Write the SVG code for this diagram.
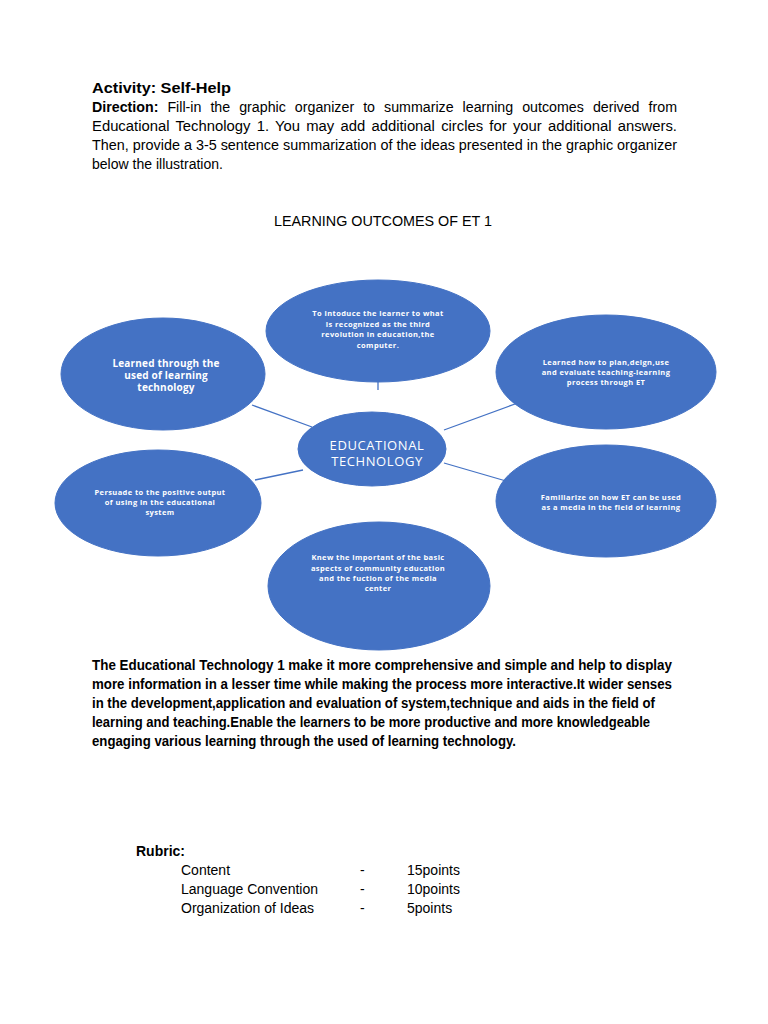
<svg xmlns="http://www.w3.org/2000/svg" width="768" height="1024" viewBox="0 0 768 1024">
<style>
.t{font-family:"Liberation Sans",Arial,sans-serif;font-size:14px;fill:#000}
.b{font-weight:bold}
.n{fill:#4472C4;stroke:#4472C4;stroke-width:1}
.w{font-family:"Open Sans","Liberation Sans",sans-serif;font-weight:bold;fill:#fff;text-anchor:middle;font-size:7.5px;letter-spacing:0.4px}
.c{stroke:#4472C4;stroke-width:1.3;fill:none}
</style>
<rect width="768" height="1024" fill="#fff"/>
<text class="t b" x="92" y="93" textLength="139" lengthAdjust="spacingAndGlyphs">Activity: Self-Help</text>
<text class="t" x="92" y="112" textLength="585" lengthAdjust="spacingAndGlyphs" style="word-spacing:5px"><tspan class="b">Direction:</tspan> Fill-in the graphic organizer to summarize learning outcomes derived from</text>
<text class="t" x="92" y="131" textLength="585" lengthAdjust="spacingAndGlyphs" style="word-spacing:2px">Educational Technology 1. You may add additional circles for your additional answers.</text>
<text class="t" x="92" y="150" textLength="585" lengthAdjust="spacingAndGlyphs">Then, provide a 3-5 sentence summarization of the ideas presented in the graphic organizer</text>
<text class="t" x="92" y="169" textLength="131" lengthAdjust="spacingAndGlyphs">below the illustration.</text>
<text class="t" x="383" y="226" text-anchor="middle" textLength="218" lengthAdjust="spacingAndGlyphs">LEARNING OUTCOMES OF ET 1</text>
<g id="connectors">
<line class="c" x1="252" y1="405" x2="312" y2="427"/>
<line class="c" x1="515" y1="404" x2="444" y2="430"/>
<line class="c" x1="255" y1="480" x2="303" y2="470"/>
<line class="c" x1="444" y1="463" x2="506" y2="481"/>
<line class="c" x1="378" y1="380" x2="378" y2="390"/>
</g>
<g id="n-top"><ellipse class="n" cx="378" cy="331" rx="112" ry="51"/>
<text class="w" x="378" y="316">To intoduce the learner to  what</text>
<text class="w" x="378" y="327">is recognized as the third</text>
<text class="w" x="378" y="337">revolution in education,the</text>
<text class="w" x="378" y="348">computer.</text></g>
<g id="n-topright"><ellipse class="n" cx="606" cy="372" rx="110" ry="57"/>
<text class="w" x="606" y="365">Learned how to plan,deign,use</text>
<text class="w" x="606" y="375">and evaluate teaching-learning</text>
<text class="w" x="606" y="385">process through ET</text></g>
<g id="n-topleft"><ellipse class="n" cx="163" cy="374" rx="102" ry="56"/>
<text class="w" x="166" y="367" style="font-size:10px;letter-spacing:0.2px">Learned through the</text>
<text class="w" x="166" y="379" style="font-size:10px;letter-spacing:0.2px">used of learning</text>
<text class="w" x="166" y="391" style="font-size:10px;letter-spacing:0.2px">technology</text></g>
<g id="n-center"><ellipse class="n" cx="372" cy="449" rx="74" ry="37"/>
<text class="w" x="377" y="450" style="font-size:13px;font-weight:normal;letter-spacing:0.6px">EDUCATIONAL</text>
<text class="w" x="377" y="466" style="font-size:13px;font-weight:normal;letter-spacing:0.6px">TECHNOLOGY</text></g>
<g id="n-left"><ellipse class="n" cx="158" cy="503" rx="103" ry="53"/>
<text class="w" x="160" y="495">Persuade to the positive output</text>
<text class="w" x="160" y="505">of using in the educational</text>
<text class="w" x="160" y="515">system</text></g>
<g id="n-right"><ellipse class="n" cx="606" cy="501" rx="110" ry="56"/>
<text class="w" x="611" y="500">Familiarize on how ET can be used</text>
<text class="w" x="611" y="510">as a media in the field of learning</text></g>
<g id="n-bottom"><ellipse class="n" cx="379" cy="586" rx="111" ry="64"/>
<text class="w" x="378" y="560">Knew the important of the basic</text>
<text class="w" x="378" y="571">aspects of community education</text>
<text class="w" x="378" y="581">and the fuction of  the  media</text>
<text class="w" x="378" y="591">center</text></g>
<text class="t b" x="92" y="670" textLength="580" lengthAdjust="spacingAndGlyphs">The Educational Technology 1 make it more comprehensive and simple and help to display</text>
<text class="t b" x="92" y="689" textLength="580" lengthAdjust="spacingAndGlyphs">more information in a lesser time while making the process more interactive.It wider senses</text>
<text class="t b" x="92" y="708" textLength="563" lengthAdjust="spacingAndGlyphs">in the development,application and evaluation of system,technique and aids in the field of</text>
<text class="t b" x="92" y="727" textLength="558" lengthAdjust="spacingAndGlyphs">learning and teaching.Enable the learners to be more productive and more knowledgeable</text>
<text class="t b" x="92" y="746" textLength="424" lengthAdjust="spacingAndGlyphs">engaging various learning through the used of learning technology.</text>
<text class="t b" x="136" y="856">Rubric:</text>
<text class="t" x="181" y="875">Content</text>
<text class="t" x="181" y="894">Language Convention</text>
<text class="t" x="181" y="913">Organization of Ideas</text>
<text class="t" x="360" y="875">-</text>
<text class="t" x="360" y="894">-</text>
<text class="t" x="360" y="913">-</text>
<text class="t" x="407" y="875">15points</text>
<text class="t" x="407" y="894">10points</text>
<text class="t" x="407" y="913">5points</text>
</svg>
